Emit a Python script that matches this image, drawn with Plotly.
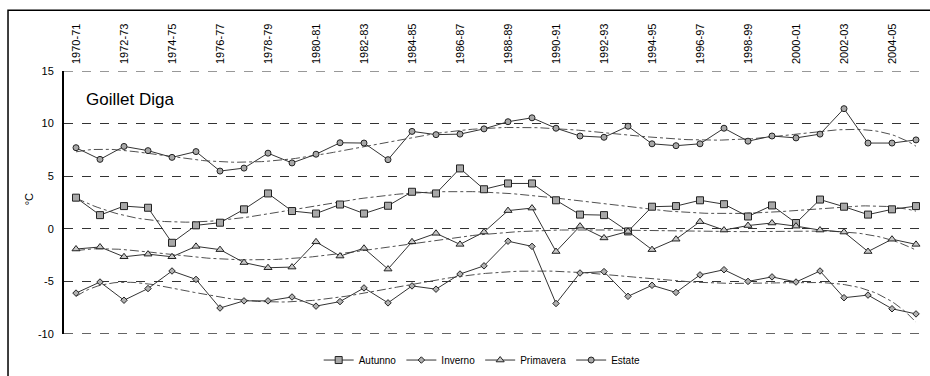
import numpy as np
import plotly.graph_objects as go

seasons = ["1970-71","1971-72","1972-73","1973-74","1974-75","1975-76","1976-77","1977-78",
           "1978-79","1979-80","1980-81","1981-82","1982-83","1983-84","1984-85","1985-86",
           "1986-87","1987-88","1988-89","1989-90","1990-91","1991-92","1992-93","1993-94",
           "1994-95","1995-96","1996-97","1997-98","1998-99","1999-00","2000-01","2001-02",
           "2002-03","2003-04","2004-05","2005-06"]

autunno = [2.96,1.30,2.16,2.00,-1.33,0.33,0.58,1.85,3.36,1.69,1.45,2.31,1.45,2.19,3.52,3.36,
           5.74,3.76,4.31,4.31,2.71,1.35,1.30,-0.25,2.10,2.16,2.71,2.34,1.17,2.22,0.55,2.78,
           2.10,1.35,1.85,2.16]
inverno = [-6.11,-5.06,-6.79,-5.68,-4.01,-4.81,-7.53,-6.85,-6.85,-6.48,-7.35,-6.92,-5.62,-7.04,
           -5.43,-5.74,-4.30,-3.52,-1.18,-1.67,-7.10,-4.20,-4.07,-6.42,-5.37,-6.05,-4.38,-3.89,
           -5.00,-4.57,-5.06,-4.01,-6.55,-6.30,-7.60,-8.09]
primavera = [-1.92,-1.73,-2.66,-2.41,-2.66,-1.67,-1.98,-3.21,-3.70,-3.64,-1.24,-2.59,-1.85,-3.83,
             -1.24,-0.43,-1.48,-0.31,1.73,1.97,-2.16,0.25,-0.87,-0.25,-1.98,-0.99,0.68,-0.12,
             0.31,0.55,0.25,-0.12,-0.31,-2.16,-0.99,-1.48]
estate = [7.71,6.60,7.83,7.43,6.79,7.34,5.49,5.77,7.19,6.26,7.09,8.18,8.15,6.57,9.26,8.95,
          9.00,9.50,10.18,10.55,9.56,8.82,8.70,9.75,8.08,7.90,8.08,9.56,8.33,8.82,8.64,9.00,
          11.42,8.15,8.15,8.45]

y_ticks = [-10, -5, 0, 5, 10, 15]
y_tick_labels = ["-10", "-5", "0", "5", "10", "15"]
title_text = "Goillet Diga"
unit_text = "°C"

series = [
    ("Autunno", autunno, "square", 7, "#a8a8a8"),
    ("Inverno", inverno, "diamond", 5, "#b0b0b0"),
    ("Primavera", primavera, "triangle-up", 7, "#c8c8c8"),
    ("Estate", estate, "circle", 6, "#a8a8a8"),
]

FONT = "Liberation Sans, Arial, sans-serif"
idx = np.arange(len(seasons))
xs = (idx - idx.mean()) / idx.std()

fig = go.Figure()

# polynomial trend lines (like the spreadsheet trendlines)
for name, vals, sym, sz, fill in series:
    coef = np.polyfit(xs, np.array(vals), 6)
    xf = np.linspace(xs[0], xs[-1], 200)
    xi = xf * idx.std() + idx.mean()
    fig.add_trace(go.Scatter(x=xi, y=np.polyval(coef, xf), mode="lines",
                             line=dict(color="#505050", width=1, dash="dashdot"),
                             showlegend=False, hoverinfo="skip"))

for name, vals, sym, sz, fill in series:
    fig.add_trace(go.Scatter(x=idx, y=vals, mode="lines+markers", name=name,
                             line=dict(color="#333333", width=1),
                             marker=dict(symbol=sym, size=sz, color=fill,
                                         line=dict(color="#222222", width=1))))

fig.update_layout(
    width=930, height=376,
    margin=dict(l=64, r=2, t=71, b=35),
    paper_bgcolor="white", plot_bgcolor="white",
    font=dict(family=FONT, size=11, color="black"),
    showlegend=True,
    legend=dict(orientation="h", x=0.484, y=-0.099, xanchor="center", yanchor="middle",
                font=dict(size=10, family=FONT, color="black"), itemwidth=30,
                bgcolor="rgba(0,0,0,0)", tracegroupgap=0),
    xaxis=dict(range=[-0.5, len(seasons) - 0.5], side="top",
               tickmode="array", tickvals=list(idx[::2]), ticktext=seasons[::2],
               tickangle=-90, showgrid=False, zeroline=False, showline=False,
               ticks="", tickfont=dict(size=11, family=FONT, color="black"),
               ticklabelstandoff=6),
    yaxis=dict(range=[-10, 15], tickmode="array", tickvals=y_ticks, ticktext=y_tick_labels,
               showgrid=True, gridcolor="#333333", griddash="dash", gridwidth=1,
               zeroline=False, showline=True, linecolor="black", linewidth=2,
               ticks="", tickfont=dict(size=11, family=FONT, color="black"),
               ticklabelstandoff=6),
    annotations=[
        dict(text=title_text, x=0.0231, y=0.89, xref="paper", yref="paper",
             xanchor="left", yanchor="middle", showarrow=False,
             font=dict(size=17, family=FONT, color="black")),
        dict(text=unit_text, x=-0.0405, y=0.512, xref="paper", yref="paper",
             xanchor="center", yanchor="middle", showarrow=False, textangle=-90,
             font=dict(size=11, family=FONT, color="black")),
    ],
    shapes=[
        dict(type="rect", xref="paper", yref="paper", x0=-0.0648, x1=1.2, y0=-0.3, y1=1.2307,
             line=dict(color="black", width=1.5), layer="below"),
        dict(type="line", xref="paper", yref="y", x0=0, x1=1, y0=15, y1=15,
             line=dict(color="#333333", width=1, dash="dash")),
        dict(type="line", xref="paper", yref="y", x0=0, x1=1, y0=-10, y1=-10,
             line=dict(color="#333333", width=1.5, dash="dash")),
    ],
)

fig.write_html("out.html")
